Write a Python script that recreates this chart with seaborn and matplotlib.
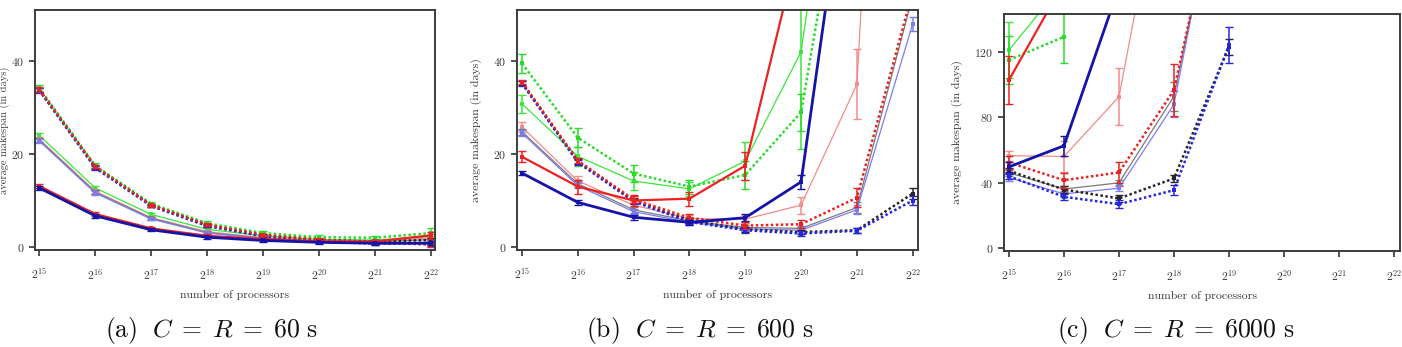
#!/usr/bin/env python3
# -*- coding: utf-8 -*-

import numpy as np
import pandas as pd
import matplotlib
matplotlib.use("Agg")
import matplotlib.pyplot as plt
import seaborn as sns

sns.set_style("ticks")
plt.rcParams["font.family"] = ["cmr10", "DejaVu Serif"]
plt.rcParams["mathtext.fontset"] = "cm"
plt.rcParams["axes.formatter.use_mathtext"] = True

NAN = np.nan
EXPONENTS = [15, 16, 17, 18, 19, 20, 21, 22]
X_TICK_LABELS = [r"$2^{%d}$" % e for e in EXPONENTS]
PANELS = ["a", "b", "c"]
CAPTIONS = {
    "a": r"$\mathrm{(a)}\ \ C\;=\;R\;=\;60\ \mathrm{s}$",
    "b": r"$\mathrm{(b)}\ \ C\;=\;R\;=\;600\ \mathrm{s}$",
    "c": r"$\mathrm{(c)}\ \ C\;=\;R\;=\;6000\ \mathrm{s}$",
}
Y_TICKS = {"a": [0, 20, 40], "b": [0, 20, 40], "c": [0, 40, 80, 120]}

# ---- average makespan (days), one list per curve, x = 2^15 .. 2^22 ----
MEAN_A = {
    "green_thin":  [24.0, 12.7, 7.0, 3.8, 2.4, 1.6, 1.5, 2.2],
    "pink_thin":   [23.2, 12.0, 6.3, 3.3, 2.0, 1.3, 1.2, 2.0],
    "gray_thin":   [23.0, 11.8, 6.2, 3.1, 1.9, 1.2, 1.1, 1.6],
    "lblue_thin":  [22.8, 11.6, 6.0, 3.0, 1.8, 1.1, 0.9, 1.0],
    "green_dot":   [34.2, 17.5, 9.3, 5.1, 3.0, 2.1, 2.0, 3.0],
    "black_dot":   [33.8, 17.2, 9.0, 4.7, 2.5, 1.5, 1.2, 1.5],
    "blue_dot":    [33.7, 17.0, 8.8, 4.5, 2.3, 1.2, 0.7, 0.7],
    "red_dot":     [33.9, 17.3, 9.0, 4.8, 2.6, 1.6, 1.0, 0.5],
    "red_thick":   [13.1, 7.1, 4.0, 2.4, 1.7, 1.2, 1.2, 2.5],
    "blue_thick":  [12.7, 6.7, 3.7, 2.1, 1.4, 1.0, 0.8, 0.8],
}
ERR_A = {
    "green_thin":  [0.6, 0.5, 0.4, 0.3, 0.3, 0.3, 0.3, 0.5],
    "pink_thin":   [0.5, 0.4, 0.3, 0.3, 0.3, 0.3, 0.3, 0.4],
    "gray_thin":   [0.5, 0.4, 0.3, 0.3, 0.3, 0.3, 0.3, 0.4],
    "lblue_thin":  [0.5, 0.4, 0.3, 0.3, 0.3, 0.3, 0.3, 0.4],
    "green_dot":   [0.6, 0.5, 0.4, 0.4, 0.4, 0.4, 0.4, 1.0],
    "black_dot":   [0.5, 0.4, 0.3, 0.3, 0.3, 0.3, 0.3, 0.5],
    "blue_dot":    [0.5, 0.4, 0.3, 0.3, 0.3, 0.3, 0.3, 0.4],
    "red_dot":     [0.5, 0.4, 0.3, 0.3, 0.3, 0.3, 0.3, 0.4],
    "red_thick":   [0.5, 0.4, 0.3, 0.3, 0.3, 0.3, 0.3, 0.8],
    "blue_thick":  [0.5, 0.4, 0.3, 0.3, 0.3, 0.3, 0.3, 0.3],
}

MEAN_B = {
    "green_thin":  [30.8, 19.5, 14.2, 12.5, 18.5, 42.0, 125.0, NAN],
    "pink_thin":   [25.8, 14.2, 9.0, 6.1, 6.0, 9.0, 35.0, 250.0],
    "gray_thin":   [24.8, 13.6, 8.0, 5.6, 4.2, 4.0, 8.5, 54.0],
    "lblue_thin":  [24.5, 13.2, 7.6, 5.3, 3.9, 3.6, 8.0, 48.0],
    "green_dot":   [39.5, 23.5, 15.8, 13.0, 15.5, 29.0, 99.0, NAN],
    "black_dot":   [35.3, 18.4, 10.0, 5.7, 3.8, 3.2, 3.6, 11.5],
    "blue_dot":    [35.2, 18.2, 9.8, 5.4, 3.6, 2.9, 3.5, 10.0],
    "red_dot":     [35.5, 18.6, 10.2, 6.3, 4.6, 4.9, 10.6, 55.0],
    "red_thick":   [19.4, 13.0, 10.0, 10.4, 17.5, 67.0, NAN, NAN],
    "blue_thick":  [15.9, 9.6, 6.4, 5.3, 6.3, 14.0, 99.0, NAN],
}
ERR_B = {
    "green_thin":  [2.0, 2.0, 2.0, 1.5, 4.0, 21.0, NAN, NAN],
    "pink_thin":   [1.0, 1.0, 1.0, 0.8, 0.8, 1.8, 7.5, NAN],
    "gray_thin":   [0.6, 0.6, 0.6, 0.5, 0.5, 0.6, 1.2, NAN],
    "lblue_thin":  [0.6, 0.6, 0.6, 0.5, 0.5, 0.6, 1.0, 1.5],
    "green_dot":   [2.0, 2.0, 1.8, 1.5, 3.0, 4.0, NAN, NAN],
    "black_dot":   [0.5, 0.5, 0.5, 0.5, 0.5, 0.5, 0.5, 1.2],
    "blue_dot":    [0.5, 0.5, 0.5, 0.5, 0.5, 0.5, 0.5, 1.0],
    "red_dot":     [0.5, 0.5, 0.8, 0.8, 0.8, 0.8, 2.0, NAN],
    "red_thick":   [1.2, 1.5, 1.2, 1.5, 3.0, NAN, NAN, NAN],
    "blue_thick":  [0.5, 0.5, 0.5, 0.5, 0.8, 1.5, NAN, NAN],
}

MEAN_C = {
    "green_thin":  [121.4, 163.0, NAN, NAN, NAN, NAN, NAN, NAN],
    "pink_thin":   [56.5, 56.0, 92.7, 270.0, NAN, NAN, NAN, NAN],
    "gray_thin":   [46.0, 36.0, 39.8, 93.0, 260.0, NAN, NAN, NAN],
    "lblue_thin":  [43.0, 33.0, 36.5, 88.0, 260.0, NAN, NAN, NAN],
    "green_dot":   [115.3, 129.6, NAN, NAN, NAN, NAN, NAN, NAN],
    "black_dot":   [47.2, 35.7, 30.2, 42.5, 123.5, NAN, NAN, NAN],
    "blue_dot":    [43.9, 31.2, 26.7, 35.3, 124.5, NAN, NAN, NAN],
    "red_dot":     [52.3, 41.4, 46.2, 96.8, 250.0, NAN, NAN, NAN],
    "red_thick":   [103.0, 163.0, NAN, NAN, NAN, NAN, NAN, NAN],
    "blue_thick":  [49.6, 62.6, 160.0, NAN, NAN, NAN, NAN, NAN],
}
ERR_C = {
    "green_thin":  [17.0, NAN, NAN, NAN, NAN, NAN, NAN, NAN],
    "pink_thin":   [3.0, 9.5, 17.5, NAN, NAN, NAN, NAN, NAN],
    "gray_thin":   [2.0, 2.0, 2.0, 9.0, NAN, NAN, NAN, NAN],
    "lblue_thin":  [2.0, 2.0, 2.0, 8.0, NAN, NAN, NAN, NAN],
    "green_dot":   [15.0, 16.0, NAN, NAN, NAN, NAN, NAN, NAN],
    "black_dot":   [2.0, 2.0, 2.0, 2.0, 5.0, NAN, NAN, NAN],
    "blue_dot":    [2.0, 2.0, 2.5, 3.0, 11.0, NAN, NAN, NAN],
    "red_dot":     [4.0, 4.5, 6.5, 16.0, NAN, NAN, NAN, NAN],
    "red_thick":   [15.0, NAN, NAN, NAN, NAN, NAN, NAN, NAN],
    "blue_thick":  [3.0, 6.0, NAN, NAN, NAN, NAN, NAN, NAN],
}

# curve styles: color, line width, dashes
STYLES = {
    "green_thin":  ("#3ae63a", 0.9, "-"),
    "pink_thin":   ("#f58a8a", 0.9, "-"),
    "gray_thin":   ("#7a7a7a", 0.9, "-"),
    "lblue_thin":  ("#7c7cf2", 0.9, "-"),
    "green_dot":   ("#27dd27", 1.8, (0, (1, 1))),
    "black_dot":   ("#262626", 1.8, (0, (1, 1))),
    "blue_dot":    ("#2626e0", 1.8, (0, (1, 1))),
    "red_dot":     ("#e82222", 1.8, (0, (1, 1))),
    "red_thick":   ("#ee2020", 1.6, "-"),
    "blue_thick":  ("#1414a8", 2.0, "-"),
}

MEANS = {"a": MEAN_A, "b": MEAN_B, "c": MEAN_C}
ERRS = {"a": ERR_A, "b": ERR_B, "c": ERR_C}

FIG_W, FIG_H = 1402, 347
AX_BOXES = {  # left, bottom, right, top in pixels (top-left origin for y)
    "a": (35, 250, 435, 10),
    "b": (517, 250, 918, 10),
    "c": (1004, 251, 1400, 14),
}
X_LIMS = {"a": (14.923, 22.071), "b": (14.91, 22.095), "c": (14.91, 22.11)}
Y_LIMS = {"a": (-0.65, 51.0), "b": (-0.65, 51.0), "c": (-2.1, 143.6)}
CAPTION_X = {"a": 212, "b": 700, "c": 1176}
YLABEL_PAD = {"a": 1, "b": 8, "c": 8}

rows = []
for p in PANELS:
    for name, vals in MEANS[p].items():
        for e, v, err in zip(EXPONENTS, vals, ERRS[p][name]):
            rows.append({"panel": p, "series": name, "procs": 2.0 ** e, "value": v, "err": err})
df = pd.DataFrame(rows)

fig = plt.figure(figsize=(FIG_W / 100, FIG_H / 100), dpi=100)
text_col = "#3a3a3a"

for p in PANELS:
    l, b, r, t = AX_BOXES[p]
    ax = fig.add_axes([l / FIG_W, 1 - b / FIG_H, (r - l) / FIG_W, (b - t) / FIG_H])
    ax.set_xscale("log", base=2)
    sub_p = df[df["panel"] == p]
    for name in STYLES:
        color, lw, ls = STYLES[name]
        sub = sub_p[sub_p["series"] == name].dropna(subset=["value"])
        if sub.empty:
            continue
        sns.lineplot(data=sub, x="procs", y="value", ax=ax, color=color, linewidth=lw,
                     linestyle=ls, marker="s", markersize=3.4, markeredgewidth=0,
                     estimator=None, sort=False, legend=False)
        eb = sub.dropna(subset=["err"])
        if not eb.empty:
            ax.errorbar(eb["procs"], eb["value"], yerr=eb["err"], fmt="none",
                        ecolor=color, elinewidth=1.1, capsize=2.6, capthick=1.0)

    ax.set_xlim(2 ** X_LIMS[p][0], 2 ** X_LIMS[p][1])
    ax.set_ylim(*Y_LIMS[p])
    ax.set_xticks([2.0 ** e for e in EXPONENTS])
    ax.set_xticklabels(X_TICK_LABELS)
    ax.xaxis.set_minor_locator(matplotlib.ticker.NullLocator())
    ax.set_yticks(Y_TICKS[p])
    ax.tick_params(axis="both", direction="out", length=4, width=1.2, colors="#333333",
                   labelsize=8.5, labelcolor=text_col)
    ax.tick_params(axis="x", pad=8)
    for s in ax.spines.values():
        s.set_visible(True)
        s.set_color("#3c3c3c")
        s.set_linewidth(1.4)
    ax.set_xlabel("number of processors", fontsize=8.5, color=text_col, labelpad=6)
    ax.set_ylabel("average makespan (in days)", fontsize=8.5 if p != "a" else 7.5,
                  color=text_col, labelpad=YLABEL_PAD[p])

    fig.text(CAPTION_X[p] / FIG_W, 1 - 330 / FIG_H, CAPTIONS[p], ha="center", va="center",
             fontsize=18.5, color="#111111")

fig.savefig("out.png", dpi=100)
